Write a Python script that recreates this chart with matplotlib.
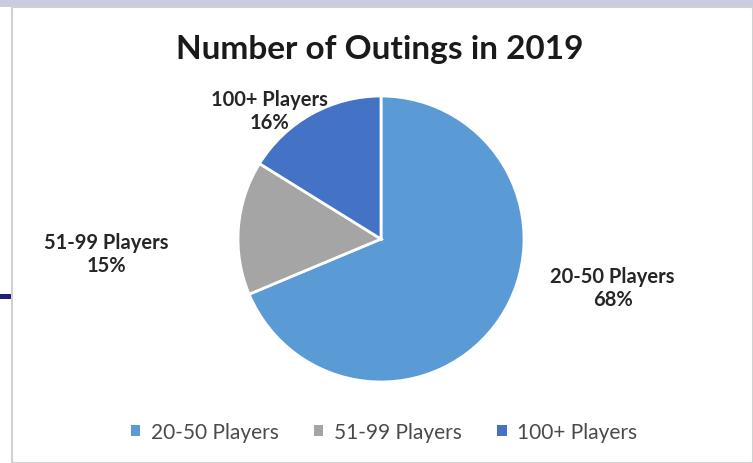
import matplotlib.pyplot as plt
from matplotlib.patches import Rectangle, Patch

categories = ["20-50 Players", "51-99 Players", "100+ Players"]
shares = [68, 15, 16]
colors = ["#5B9BD5", "#A5A5A5", "#4472C4"]
title = "Number of Outings in 2019"

W, H = 753, 464
fig = plt.figure(figsize=(W / 100, H / 100), dpi=100)
plt.rcParams['font.family'] = ['Lato', 'DejaVu Sans']

# slide background bits around the chart box
fig.patches.append(Rectangle((0, 1 - 8 / H), 1, 8 / H, transform=fig.transFigure,
                             facecolor="#C9CCE0", edgecolor="none", zorder=0))
fig.patches.append(Rectangle((12 / W, 0), 1 - 12 / W, 1 - 8 / H, transform=fig.transFigure,
                             facecolor="white", edgecolor="#D0D0D0", linewidth=1.5, zorder=1))
fig.patches.append(Rectangle((0, 1 - 300 / H), 11 / W, 5 / H, transform=fig.transFigure,
                             facecolor="#1F1F7A", edgecolor="none", zorder=1))

cx, cy, r = 381, 240, 143
ax = fig.add_axes([(cx - r) / W, 1 - (cy + r) / H, 2 * r / W, 2 * r / H])
ax.set_zorder(5)
wedges, _ = ax.pie(shares, colors=colors, startangle=90, counterclock=False,
                   wedgeprops=dict(edgecolor="white", linewidth=2))
ax.set_xlim(-1, 1)
ax.set_ylim(-1, 1)
ax.set_aspect("auto")
ax.axis("off")

label_pos = [(1.62, -0.34), (-1.92, -0.10), (-0.78, 0.90)]
for (x, y), name, v in zip(label_pos, categories, shares):
    ax.text(x, y, f"{name}\n{v}%", ha="center", va="center", fontsize=14.5,
            fontweight="bold", color="#262626", linespacing=1.2, clip_on=False)

fig.text(380 / W, 1 - 50 / H, title, ha="center", va="center", fontsize=24,
         fontweight="bold", color="#1a1a1a", zorder=5)

handles = [Patch(facecolor=c, edgecolor="none") for c in colors]
leg = fig.legend(handles, categories, loc="center", bbox_to_anchor=(384 / W, 1 - 433 / H),
                 ncol=3, frameon=False, fontsize=15, handlelength=0.45, handleheight=0.45,
                 handletextpad=0.5, columnspacing=1.7, labelcolor="#4a4a4a")
leg.set_zorder(5)

fig.savefig("out.png", dpi=100)
